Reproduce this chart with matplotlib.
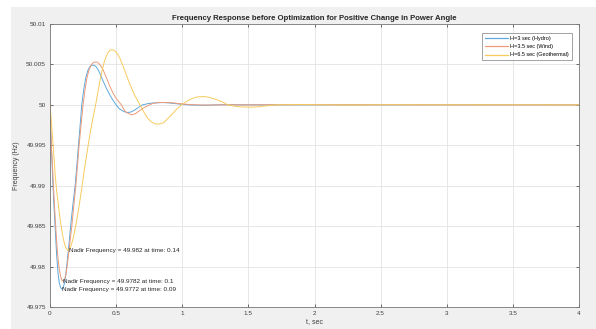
import matplotlib
matplotlib.use("Agg")
import matplotlib.pyplot as plt
from matplotlib.patches import Rectangle

# values (time in s, frequency in Hz)
t_hydro = [0, 0.005, 0.01, 0.02, 0.03, 0.04, 0.05, 0.06, 0.07, 0.08, 0.09, 0.10, 0.11, 0.12,
           0.13, 0.143, 0.156, 0.172, 0.19, 0.203, 0.215, 0.228, 0.24, 0.255, 0.27, 0.285,
           0.30, 0.315, 0.333, 0.35, 0.365, 0.38, 0.40, 0.425, 0.45, 0.475, 0.50, 0.525,
           0.55, 0.58, 0.61, 0.64, 0.67, 0.70, 0.74, 0.78, 0.82, 0.855, 0.90, 0.95, 1.0,
           1.05, 1.1, 1.2, 1.3, 1.5, 2.0, 4.0]
f_hydro = [50.0, 49.997, 49.995, 49.991, 49.9875, 49.9845, 49.9815, 49.9793, 49.978, 49.9774,
           49.9772, 49.9774, 49.978, 49.9791, 49.9806, 49.9827, 49.985, 49.9875, 49.990,
           49.9925, 49.995, 49.9975, 50.0, 50.0019, 50.0033, 50.0042, 50.0047, 50.0049,
           50.0049, 50.0047, 50.0043, 50.0038, 50.003, 50.0021, 50.0013, 50.0006, 50.0,
           49.9995, 49.99925, 49.99905, 49.9991, 49.99935, 49.9997, 50.0, 50.00015, 50.00023,
           50.00027, 50.00028, 50.00024, 50.00015, 50.00006, 50.0, 49.99996, 49.99996,
           50.00002, 50.0, 50.0, 50.0]

t_wind = [0, 0.005, 0.01, 0.02, 0.03, 0.04, 0.05, 0.06, 0.07, 0.08, 0.09, 0.10, 0.11, 0.12,
          0.13, 0.14, 0.152, 0.165, 0.18, 0.195, 0.208, 0.22, 0.235, 0.25, 0.265, 0.28,
          0.295, 0.31, 0.325, 0.34, 0.355, 0.37, 0.385, 0.40, 0.425, 0.45, 0.475, 0.50,
          0.54, 0.565, 0.59, 0.617, 0.645, 0.67, 0.70, 0.74, 0.78, 0.83, 0.88, 0.93, 0.98,
          1.05, 1.15, 1.3, 1.5, 1.9, 2.5, 4.0]
f_wind = [50.0, 49.997, 49.995, 49.992, 49.9887, 49.9858, 49.9832, 49.9811, 49.9797, 49.9788,
          49.9783, 49.9782, 49.9784, 49.979, 49.9801, 49.9815, 49.9832, 49.985, 49.9875,
          49.990, 49.9925, 49.995, 49.9975, 50.0, 50.0019, 50.0034, 50.0043, 50.0049,
          50.0052, 50.0053, 50.0053, 50.0051, 50.0048, 50.0044, 50.0034, 50.0024, 50.0015,
          50.0008, 50.0, 49.99925, 49.99895, 49.99877, 49.9989, 49.9992, 49.99955, 49.9999,
          50.0002, 50.00029, 50.0003, 50.00025, 50.00015, 50.00005, 49.99997, 50.0, 50.0,
          50.00002, 50.00001, 50.0]

t_geo = [0, 0.01, 0.02, 0.03, 0.04, 0.05, 0.063, 0.075, 0.09, 0.10, 0.11, 0.12, 0.135, 0.15,
         0.16, 0.175, 0.19, 0.205, 0.222, 0.24, 0.26, 0.28, 0.30, 0.32, 0.345, 0.36, 0.378,
         0.395, 0.41, 0.425, 0.44, 0.458, 0.476, 0.495, 0.51, 0.53, 0.55, 0.575, 0.60, 0.64,
         0.68, 0.71, 0.74, 0.77, 0.80, 0.83, 0.86, 0.89, 0.92, 0.96, 0.995, 1.03, 1.07, 1.11,
         1.159, 1.2, 1.25, 1.3, 1.345, 1.39, 1.44, 1.51, 1.57, 1.64, 1.71, 1.9, 2.1, 2.3,
         2.55, 2.8, 4.0]
f_geo = [50.0, 49.998, 49.9958, 49.9935, 49.9912, 49.9894, 49.9877, 49.986, 49.9844, 49.9835,
         49.9828, 49.9823, 49.982, 49.9822, 49.9826, 49.9835, 49.9847, 49.986, 49.9877,
         49.9897, 49.992, 49.9941, 49.9962, 49.998, 50.0, 50.0014, 50.003, 50.0043, 50.0053,
         50.006, 50.0065, 50.0068, 50.0068, 50.0066, 50.0063, 50.0057, 50.0049, 50.0038,
         50.0027, 50.0012, 50.0, 49.9991, 49.9983, 49.99785, 49.99763, 49.99765, 49.9978,
         49.9983, 49.9988, 49.9995, 50.0, 50.0004, 50.00075, 50.00097, 50.00103, 50.00095,
         50.0007, 50.0004, 50.0, 49.99985, 49.99975, 49.99971, 49.99975, 49.99988, 50.0,
         50.00004, 50.0, 49.99998, 50.00002, 50.0, 50.0]

labels = ["H=3 sec (Hydro)", "H=3.5 sec (Wind)", "H=6.5 sec (Geothermal)"]
colors = ["#5fa8dc", "#ec9a78", "#f6cb5c"]

nadir_t = [0.14, 0.1, 0.09]
nadir_f = [49.982, 49.9782, 49.9772]

xticks = [0, 0.5, 1, 1.5, 2, 2.5, 3, 3.5, 4]
yticks = [49.975, 49.98, 49.985, 49.99, 49.995, 50, 50.005, 50.01]
yticklabels = ["49.975", "49.98", "49.985", "49.99", "49.995", "50", "50.005", "50.01"]

plt.rcParams['font.family'] = ['Liberation Sans', 'DejaVu Sans']

fig = plt.figure(figsize=(5.96, 3.29), dpi=100, facecolor="white")
fig.patches.append(Rectangle((11 / 596, 0), 1, (329 - 7) / 329, transform=fig.transFigure,
                             facecolor="#f0f0f0", edgecolor="none", zorder=-10))

ax = fig.add_axes([50 / 596, 22 / 329, 529 / 596, 283 / 329])
ax.set_facecolor("white")

ax.plot(t_hydro, f_hydro, color=colors[0], lw=0.7, label=labels[0])
ax.plot(t_wind, f_wind, color=colors[1], lw=0.7, label=labels[1])
ax.plot(t_geo, f_geo, color=colors[2], lw=0.7, label=labels[2])

for tt, ff in zip(nadir_t, nadir_f):
    ax.text(tt, ff, f"Nadir Frequency = {ff:g} at time: {tt:g}", fontsize=4.6,
            color="#262626", ha="left", va="center")

ax.set_xlim(0, 4)
ax.set_ylim(49.975, 50.01)
ax.set_xticks(xticks)
ax.set_xticklabels([f"{x:g}" for x in xticks])
ax.set_yticks(yticks)
ax.set_yticklabels(yticklabels)
ax.grid(True, color="#e3e3e3", lw=0.6)
ax.set_axisbelow(True)
ax.tick_params(direction="in", length=2.5, width=0.6, labelsize=4.6, colors="#555555",
               labelcolor="#404040", top=True, right=True, pad=3)
for s in ax.spines.values():
    s.set_color("#777777")
    s.set_linewidth(0.6)

ax.set_title("Frequency Response before Optimization for Positive Change in Power Angle",
             fontsize=5.6, fontweight="bold", color="#262626", pad=3)
ax.set_xlabel("t, sec", fontsize=5, color="#404040", labelpad=1)
ax.set_ylabel("Frequency (Hz)", fontsize=5, color="#404040", labelpad=4)

leg = ax.legend(loc="upper right", fontsize=4.0, frameon=True, fancybox=False,
                handlelength=4.2, borderpad=0.5, labelspacing=0.6, handletextpad=0.4,
                bbox_to_anchor=(0.992, 0.978))
leg.get_frame().set_edgecolor("#777777")
leg.get_frame().set_linewidth(0.6)
for line in leg.get_lines():
    line.set_linewidth(0.9)

fig.savefig("out.png", dpi=100, facecolor=fig.get_facecolor())
